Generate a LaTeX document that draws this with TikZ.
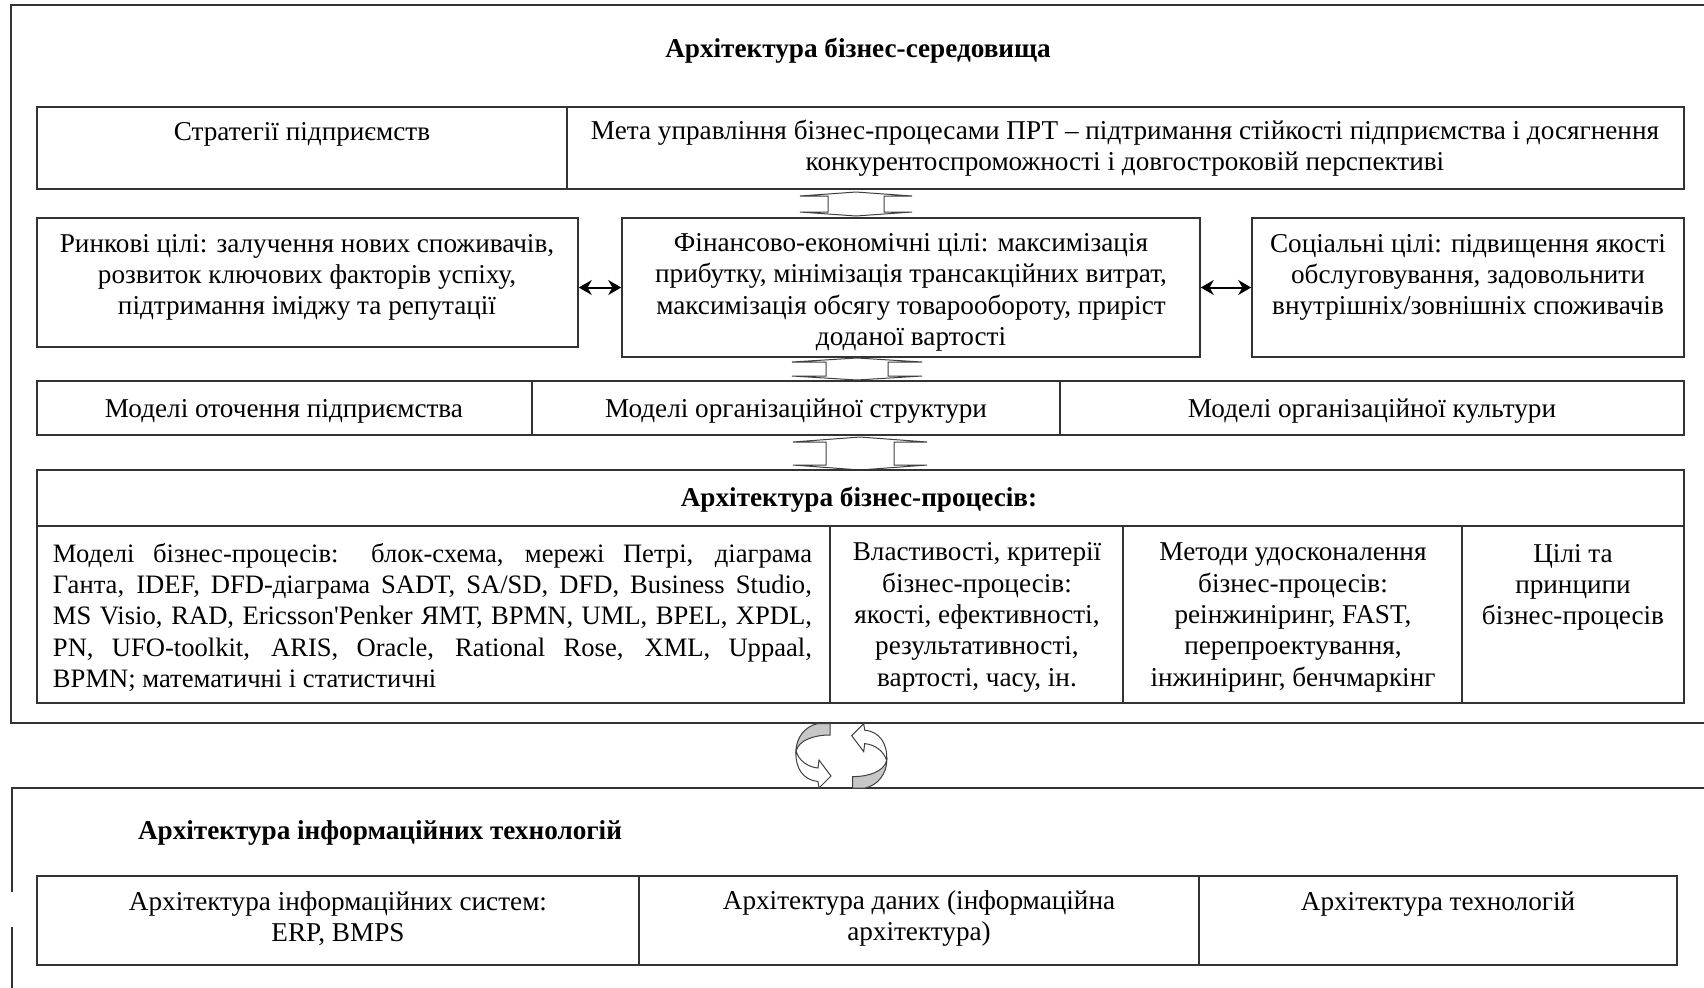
\documentclass[tikz,border=0pt]{standalone}
\usepackage{fontspec}
\setmainfont{Liberation Serif}
\usetikzlibrary{fit,arrows.meta}
\newcommand{\fs}{\fontsize{13.6}{15.65}\selectfont}
\newcommand{\fsp}{\fontsize{13.3}{15.65}\selectfont}
% vertical up-down block arrow: cx, ytop, ybot, half head width, half shaft width, head height
\newcommand{\udarrow}[6]{%
  \draw[blk] (#1,#2) -- ({#1+#4},{#2+#6}) -- ({#1+#5},{#2+#6}) -- ({#1+#5},{#3-#6})
    -- ({#1+#4},{#3-#6}) -- (#1,#3) -- ({#1-#4},{#3-#6}) -- ({#1-#5},{#3-#6})
    -- ({#1-#5},{#2+#6}) -- ({#1-#4},{#2+#6}) -- cycle;}
\newcommand{\cyclearrow}{%
  \filldraw[cyc, fill=black!22] (818,723.5) -- (830,723.5) -- (830,735)
    .. controls (814,735) and (799,740) .. (796,751)
    .. controls (796,738) and (805,726) .. (818,723.5) -- cycle;
  \filldraw[cyc, fill=white] (796,751) .. controls (799,761) and (808,767) .. (818,768)
    -- (819,760) -- (831,776) -- (819,788) -- (818,781.5)
    .. controls (803,780) and (795,768) .. (796,751) -- cycle;}
\begin{document}
\begin{tikzpicture}[x=0.5pt,y=-0.5pt,
  frameline/.style={draw=black!80, line width=0.9pt},
  cell/.style={draw=black!80, line width=0.8pt, inner sep=0pt},
  txt/.style={inner sep=0pt, align=center, font=\fs, yshift=-1.25pt},
  ttl/.style={inner sep=0pt, align=center, font=\fs\bfseries, yshift=-1.25pt},
  blk/.style={draw=black!75, line width=0.5pt, fill=white},
  dbl/.style={{Stealth[length=6.5pt,width=7.5pt]}-{Stealth[length=6.5pt,width=7.5pt]}, line width=1pt, black},
  cyc/.style={draw=black!75, line width=0.5pt}]
\useasboundingbox (0,0) rectangle (1704,987);
\fill[white] (0,0) rectangle (1704,987);

% outer frames
\draw[frameline] (1720,5) -- (11,5) -- (11,723) -- (1720,723);
\draw[frameline] (1720,788) -- (12,788) -- (12,892);
\draw[frameline] (12,927) -- (12,1000);

% title
\node[ttl] (t1) at (858,48) {Архітектура бізнес-середовища};

% row 1
\node[cell, fit={(37,107) (567,189)}] (strat) {};
\node[cell, fit={(567,107) (1684,189)}] (goal) {};
\node[txt] (tstrat) at (302,132) {Стратегії підприємств};
\node[txt] (tgoal) at (1125,146) {Мета управління бізнес-процесами ПРТ – підтримання стійкості підприємства і досягнення\\конкурентоспроможності і довгостроковій перспективі};

\udarrow{856}{192}{216}{56}{28}{4}

% row 2
\node[cell, fit={(37,218) (578,347)}] (market) {};
\node[cell, fit={(622,218) (1200,357)}] (fin) {};
\node[cell, fit={(1252,218) (1684,357)}] (social) {};
\node[txt] (tmarket) at (307,275) {Ринкові цілі: залучення нових споживачів,\\розвиток ключових факторів успіху,\\підтримання іміджу та репутації};
\node[txt] (tfin) at (911,290) {Фінансово-економічні цілі: максимізація\\прибутку, мінімізація трансакційних витрат,\\максимізація обсягу товарообороту, приріст\\доданої вартості};
\node[txt] (tsocial) at (1468,275) {Соціальні цілі: підвищення якості\\обслуговування, задовольнити\\внутрішніх/зовнішніх споживачів};
\draw[dbl] (market.east |- fin.west) -- (fin.west);
\draw[dbl] (fin.east) -- (social.west);

\udarrow{857}{358}{380}{65}{31}{4}

% row 3
\node[cell, fit={(37,381) (532,435)}] (env) {};
\node[cell, fit={(532,381) (1060,435)}] (orgs) {};
\node[cell, fit={(1060,381) (1684,435)}] (orgc) {};
\node[txt] (tenv) at (284,409) {Моделі оточення підприємства};
\node[txt] (torgs) at (796,409) {Моделі організаційної структури};
\node[txt] (torgc) at (1372,409) {Моделі організаційної культури};

\udarrow{860}{437}{470}{67}{34}{5}

% row 4
\node[cell, fit={(37,470) (1684,526)}] (bph) {};
\node[ttl] (tbph) at (859,497) {Архітектура бізнес-процесів:};
\node[cell, fit={(37,526) (830,703)}] (c1) {};
\node[cell, fit={(830,526) (1123,703)}] (c2) {};
\node[cell, fit={(1123,526) (1462,703)}] (c3) {};
\node[cell, fit={(1462,526) (1684,703)}] (c4) {};
\node[inner sep=0pt, text width=379.5pt, align=justify, font=\fsp, yshift=-0.75pt] (tc1) at (432.5,616)
 {Моделі бізнес-процесів: блок-схема, мережі Петрі, діаграма\linebreak
  Ганта, IDEF, DFD-діаграма SADT, SA/SD, DFD, Business Studio,\linebreak
  MS Visio, RAD, Ericsson{\addfontfeatures{Ligatures=TeXOff}'}Penker ЯМТ, BPMN, UML, BPEL, XPDL,\linebreak
  PN, UFO-toolkit, ARIS, Oracle, Rational Rose, XML, Uppaal,\linebreak
  BPMN; математичні і статистичні};
\node[txt, yshift=0.5pt] (tc2) at (977,616) {Властивості, критерії\\бізнес-процесів:\\якості, ефективності,\\результативності,\\вартості, часу, ін.};
\node[txt, yshift=0.5pt] (tc3) at (1293,616) {Методи удосконалення\\бізнес-процесів:\\реінжиніринг, FAST,\\перепроектування,\\інжиніринг, бенчмаркінг};
\node[txt, yshift=0.5pt] (tc4) at (1573,586) {Цілі та\\принципи\\бізнес-процесів};

% cycle arrows
\cyclearrow
\begin{scope}[rotate around={180:(841.35,755.8)}]
\cyclearrow
\end{scope}

% bottom block
\node[ttl] (t2) at (380,830) {Архітектура інформаційних технологій};
\node[cell, fit={(37,876) (639,965)}] (b1) {};
\node[cell, fit={(639,876) (1199,965)}] (b2) {};
\node[cell, fit={(1199,876) (1677,965)}] (b3) {};
\node[txt] (tb1) at (338,916) {Архітектура інформаційних систем:\\ERP, BMPS};
\node[txt] (tb2) at (919,916) {Архітектура даних (інформаційна\\архітектура)};
\node[txt] (tb3) at (1438,902) {Архітектура технологій};
\end{tikzpicture}
\end{document}
